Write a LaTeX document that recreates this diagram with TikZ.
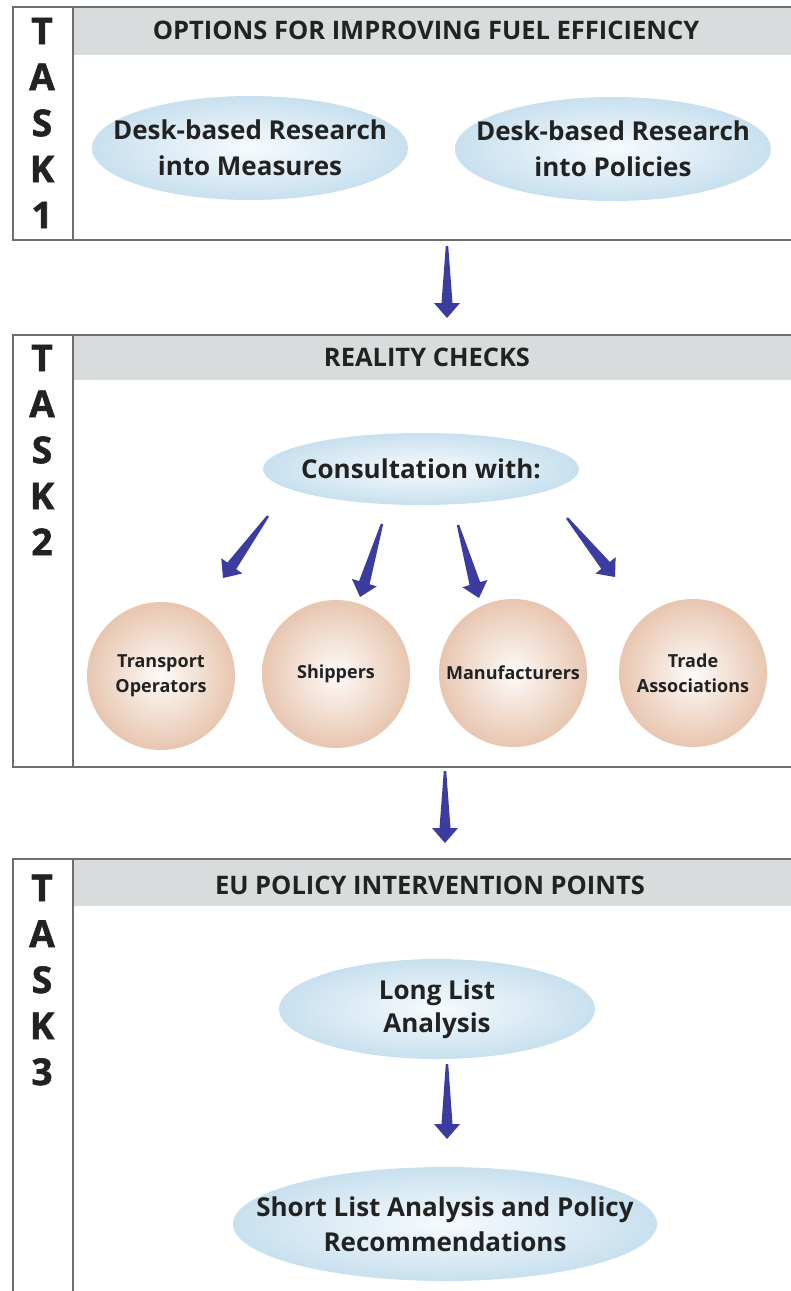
\documentclass[tikz,border=0pt]{standalone}
\usepackage{fontspec}
\setmainfont{Open Sans}
\newfontfamily\heavyfont{Open Sans}[BoldFeatures={FakeBold=1.5}]
\usetikzlibrary{calc,shapes.geometric}
\definecolor{ellblue}{HTML}{C8E0EF}
\definecolor{peach}{HTML}{E8C6B0}
\definecolor{hdrgray}{HTML}{D9DCDC}
\definecolor{linegray}{HTML}{6E6E6E}
\definecolor{arrowfill}{HTML}{3B3BA0}
\definecolor{txt}{HTML}{222222}
\newcommand\fatarrow[2]{%
  \coordinate (fa-n) at ($(#2)!15pt!(#1)$);
  \fill[arrowfill] ($(#1)!1.2pt!90:(#2)$) -- ($(fa-n)!5.5pt!90:(#2)$) -- ($(fa-n)!13pt!90:(#2)$) -- (#2)
    -- ($(fa-n)!13pt!-90:(#2)$) -- ($(fa-n)!5.5pt!-90:(#2)$) -- ($(#1)!1.2pt!-90:(#2)$) -- cycle;}
\tikzset{
  boxline/.style={draw=linegray, line width=1.3pt},
  header/.style={fill=hdrgray},
  hdrtext/.style={font=\bfseries\fontsize{25.5}{28}\selectfont, text=txt},
  tasklabel/.style={font=\heavyfont\bfseries\fontsize{37}{46}\selectfont, text=txt, align=center, inner sep=0pt},
  ell/.style={ellipse, inner xsep=-90pt, inner ysep=-25pt, shade, inner color=ellblue!15, outer color=ellblue,
    font=\bfseries\fontsize{26}{36}\selectfont, text=txt, align=center},
  circ/.style={circle, inner sep=-20pt, minimum size=148pt, shade, inner color=peach!8, outer color=peach,
    font=\bfseries\fontsize{18}{25}\selectfont, text=txt, align=center},
}
\begin{document}
\begin{tikzpicture}[x=1pt,y=-1pt]
\useasboundingbox[fill=white] (0,0) rectangle (791,1291);
% ---------- Task 1 ----------
\fill[header] (73,7) rectangle (791,55);
\draw[boxline] (791,7) -- (13,7) -- (13,240) -- (791,240);
\draw[boxline] (73,7) -- (73,240);
\node[hdrtext] (h1) at (426,30) {OPTIONS FOR IMPROVING FUEL EFFICIENCY};
\node[tasklabel] (task1) at (42,123) {T\\A\\S\\K\\1};
\node[ell, minimum width=316pt, minimum height=104pt] (meas) at (250,148) {Desk-based Research\\into Measures};
\node[ell, minimum width=316pt, minimum height=104pt] (pol) at (613,149) {Desk-based Research\\into Policies};
% ---------- Task 2 ----------
\fill[header] (73,335) rectangle (791,380);
\draw[boxline] (791,335) -- (13,335) -- (13,767) -- (791,767);
\draw[boxline] (73,335) -- (73,767);
\node[hdrtext] (h2) at (427,357) {REALITY CHECKS};
\node[tasklabel] (task2) at (42,450) {T\\A\\S\\K\\2};
\node[ell, minimum width=316pt, minimum height=72pt] (cons) at (421,469) {Consultation with:};
\node[circ] (c1) at (161,676) {Transport\\Operators};
\node[circ] (c2) at (336,674) {Shippers};
\node[circ] (c3) at (513,673) {Manufacturers};
\node[circ] (c4) at (693,673) {Trade\\Associations};
% ---------- Task 3 ----------
\fill[header] (73,859) rectangle (791,906);
\draw[boxline] (791,859) -- (13,859) -- (13,1291);
\draw[boxline] (73,859) -- (73,1291);
\node[hdrtext] (h3) at (430,885) {EU POLICY INTERVENTION POINTS};
\node[tasklabel] (task3) at (42,980) {T\\A\\S\\K\\3};
\node[ell, minimum width=316pt, minimum height=100pt, font=\bfseries\fontsize{26}{33}\selectfont] (long) at (437,1009) {Long List\\Analysis};
\node[ell, minimum width=424pt, minimum height=114pt, font=\bfseries\fontsize{26}{35}\selectfont] (short) at (445,1224) {Short List Analysis and Policy\\Recommendations};
% ---------- arrows ----------
\coordinate (a1s) at (447,246); \coordinate (a1e) at (447,318);
\coordinate (a2s) at (445,771); \coordinate (a2e) at (445,843);
\coordinate (b1s) at (268,516); \coordinate (b1e) at (223,578);
\coordinate (b2s) at (382,524); \coordinate (b2e) at (360,597);
\coordinate (b3s) at (458,525); \coordinate (b3e) at (479,598);
\coordinate (b4s) at (567,518); \coordinate (b4e) at (615,577);
\coordinate (a3s) at (447,1064); \coordinate (a3e) at (447,1139);
\fatarrow{a1s}{a1e}
\fatarrow{a2s}{a2e}
\fatarrow{b1s}{b1e}
\fatarrow{b2s}{b2e}
\fatarrow{b3s}{b3e}
\fatarrow{b4s}{b4e}
\fatarrow{a3s}{a3e}
\end{tikzpicture}
\end{document}
